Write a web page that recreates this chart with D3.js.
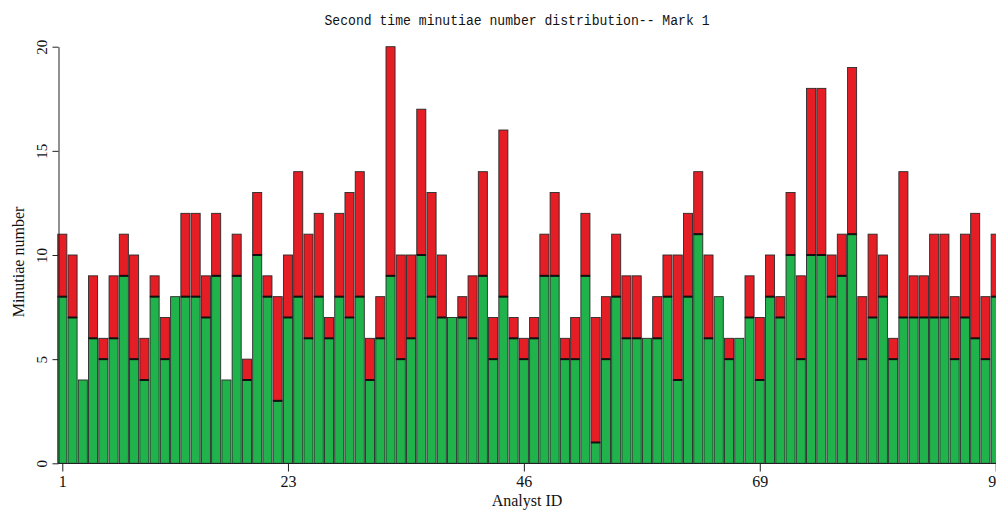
<!DOCTYPE html>
<html>
<head>
<meta charset="utf-8">
<script src="https://cdn.jsdelivr.net/npm/d3@7"></script>
<style>
  body { margin: 0; background: #fff; }
  svg { display: block; }
</style>
</head>
<body>
<script>
// minutiae per analyst: green = first part, red = added on top
var green = [8,7,4,6,5,6,9,5,4,8,5,8,8,8,7,9,4,9,4,10,
             8,3,7,8,6,8,6,8,7,8,4,6,9,5,6,10,8,7,7,7,
             6,9,5,8,6,5,6,9,9,5,5,9,1,5,8,6,6,6,6,8,
             4,8,11,6,8,5,6,7,4,8,7,10,5,10,10,8,9,11,5,7,
             8,5,7,7,7,7,7,5,7,6,5,8];
var red = [3,3,0,3,1,3,2,5,2,1,2,0,4,4,2,3,0,2,1,3,
           1,5,3,6,5,4,1,4,6,6,2,2,11,5,4,7,5,3,0,1,
           3,5,2,8,1,1,1,2,4,1,2,3,6,3,3,3,3,0,2,2,
           6,4,3,4,0,1,0,2,3,2,1,3,4,8,8,2,2,8,3,4,
           2,1,7,2,2,4,4,3,4,6,3,3];
var ids = d3.range(1, green.length + 1);
var xTicks = [1, 23, 46, 69, 92];
var yTicks = [0, 5, 10, 15, 20];

var width = 996, height = 513;

var svg = d3.select('body').append('svg')
    .attr('width', width)
    .attr('height', height)

var x = d3.scaleLinear().domain([1, 92]).range([62.3, 995.7])
var y = d3.scaleLinear().domain([0, 20]).range([463.3, 46.7])
var step = x(2) - x(1)

var rows = ids.map((id, i) => ({id: id, green: green[i], red: red[i]}))
var series = d3.stack().keys(['green', 'red'])(rows)
var colors = {green: '#20b34b', red: '#e51d25'}

svg.append('g').selectAll('g')
    .data(series)
    .join('g')
    .attr('fill', d => colors[d.key])
    .selectAll('rect')
    .data(d => d.filter(p => p[1] > p[0]))
    .join('rect')
    .attr('x', d => x(d.data.id) - step / 2 + 0.6)
    .attr('width', step - 1.2)
    .attr('y', d => y(d[1]))
    .attr('height', d => y(d[0]) - y(d[1]))
    .attr('stroke', '#2a2a2a')
    .attr('stroke-width', 0.9)

// dark seam where red sits on green
svg.append('g').selectAll('line')
    .data(rows.filter(d => d.red > 0))
    .join('line')
    .attr('x1', d => x(d.id) - step / 2 + 0.6)
    .attr('x2', d => x(d.id) + step / 2 - 0.6)
    .attr('y1', d => y(d.green))
    .attr('y2', d => y(d.green))
    .attr('stroke', '#111')
    .attr('stroke-width', 2)

// axes
var xAxis = svg.append('g')
    .attr('transform', 'translate(0,463.5)')
    .call(d3.axisBottom(x).tickValues(xTicks).tickSize(8).tickSizeOuter(0))
xAxis.select('.domain').attr('d', 'M58.5,0H996').attr('stroke', '#222')
xAxis.selectAll('.tick line').attr('stroke', '#222')
xAxis.selectAll('.tick text')
    .attr('y', 12)
    .attr('font-family', 'Liberation Serif, Times New Roman, serif')
    .attr('font-size', 16)
    .attr('fill', '#111')

var yAxis = svg.append('g')
    .attr('transform', 'translate(58.5,0)')
    .call(d3.axisLeft(y).tickValues(yTicks).tickSize(6).tickSizeOuter(0))
yAxis.select('.domain').attr('stroke', '#222')
yAxis.selectAll('.tick line').attr('stroke', '#222')
yAxis.selectAll('.tick text')
    .attr('x', null).attr('dy', null)
    .attr('transform', 'translate(-12,0) rotate(-90)')
    .attr('text-anchor', 'middle')
    .attr('font-family', 'Liberation Serif, Times New Roman, serif')
    .attr('font-size', 15)
    .attr('fill', '#111')

svg.append('text')
    .attr('x', 517)
    .attr('y', 25)
    .attr('text-anchor', 'middle')
    .attr('font-family', 'Liberation Mono, DejaVu Sans Mono, monospace')
    .attr('font-size', 14)
    .attr('textLength', 385)
    .attr('lengthAdjust', 'spacingAndGlyphs')
    .attr('fill', '#111')
    .text('Second time minutiae number distribution-- Mark 1')

svg.append('text')
    .attr('x', 527)
    .attr('y', 506)
    .attr('text-anchor', 'middle')
    .attr('font-family', 'Liberation Serif, Times New Roman, serif')
    .attr('font-size', 16)
    .attr('fill', '#111')
    .text('Analyst ID')

svg.append('text')
    .attr('transform', 'translate(24,262) rotate(-90)')
    .attr('text-anchor', 'middle')
    .attr('font-family', 'Liberation Serif, Times New Roman, serif')
    .attr('font-size', 16)
    .attr('fill', '#111')
    .text('Minutiae number')
</script>
</body>
</html>
